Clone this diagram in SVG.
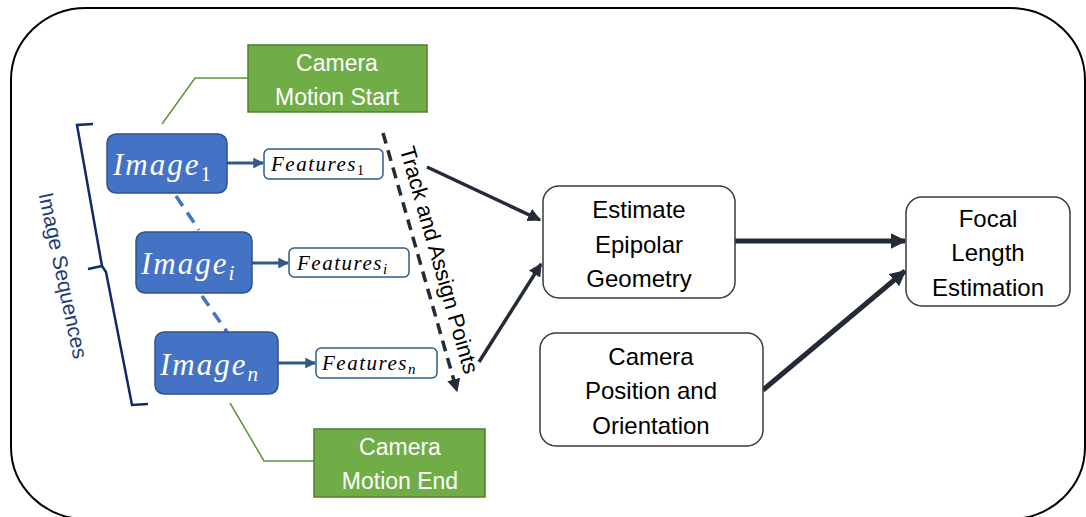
<svg xmlns="http://www.w3.org/2000/svg" width="1086" height="517" viewBox="0 0 1086 517">
<defs>
<style>
.frame{fill:#fff;stroke:#000;stroke-width:2}
.img{fill:#4472C4;stroke:#2F528F;stroke-width:1.5}
.imgt{font-family:"Liberation Serif",serif;font-style:italic;font-size:31px;letter-spacing:2px;fill:#fff}
.feat{fill:#fff;stroke:#2E5C8A;stroke-width:1.5}
.featt{font-family:"Liberation Serif",serif;font-style:italic;font-size:21px;letter-spacing:1.5px;fill:#000}
.sub{font-style:normal;letter-spacing:0}
.green{fill:#70AD47;stroke:#507E32;stroke-width:1.5}
.gt{font-family:"Liberation Sans",Arial,sans-serif;font-size:23px;fill:#fff;text-anchor:middle}
.box{fill:#fff;stroke:#3A3A3A;stroke-width:1.5}
.bt{font-family:"Liberation Sans",Arial,sans-serif;font-size:24px;fill:#000;text-anchor:middle}
.blue{stroke:#2E5C8A;stroke-width:3;fill:none}
.dark{stroke:#232B38;stroke-width:3.5;fill:none}
.thick{stroke:#232B38;stroke-width:5;fill:none}
.gline{stroke:#5E9639;stroke-width:1.5;fill:none}
</style>
<marker id="ab" viewBox="0 0 10 10" refX="9" refY="5" markerWidth="3.6" markerHeight="3.6" orient="auto" markerUnits="strokeWidth"><path d="M0,0L10,5L0,10z" fill="#2E5C8A"/></marker>
<marker id="ad" viewBox="0 0 10 10" refX="9" refY="5" markerWidth="3.8" markerHeight="3.8" orient="auto" markerUnits="strokeWidth"><path d="M0,0L10,5L0,10z" fill="#232B38"/></marker>
<marker id="at" viewBox="0 0 10 10" refX="9" refY="5" markerWidth="3.2" markerHeight="3.2" orient="auto" markerUnits="strokeWidth"><path d="M0,0L10,5L0,10z" fill="#232B38"/></marker>
</defs>
<rect class="frame" x="11" y="8" width="1074" height="511" rx="75" ry="72"/>

<g id="connectors">
<path class="gline" d="M162,124L195,78H248"/>
<path class="gline" d="M230,403L264,461H314"/>
<path d="M176,196L199,230M202,296L227,332" stroke="#4472C4" stroke-width="3.5" stroke-dasharray="12,8" fill="none"/>
<path class="blue" d="M227,163H263" marker-end="url(#ab)"/>
<path class="blue" d="M252,263H288" marker-end="url(#ab)"/>
<path class="blue" d="M278,363H315" marker-end="url(#ab)"/>
<path d="M383,133L457,391" stroke="#232B38" stroke-width="3.5" stroke-dasharray="11,7" fill="none" marker-end="url(#ad)"/>
<path class="dark" d="M427,167L540,220" marker-end="url(#ad)"/>
<path class="dark" d="M479,362L541,264" marker-end="url(#ad)"/>
<path class="thick" d="M735,241H905" marker-end="url(#at)"/>
<path class="thick" d="M763,390L905,271" marker-end="url(#at)"/>
<path d="M93,124L77,125L102,266L88,269M102,266L106,272L132,405L148,404" stroke="#0F2A6B" stroke-width="2.5" fill="none" stroke-linejoin="miter"/>
</g>

<g id="label-sequences">
<text transform="translate(56,277) rotate(78)" text-anchor="middle" font-family="Liberation Sans,Arial,sans-serif" font-size="21" fill="#1F3A7A">Image Sequences</text>
</g>
<g id="label-track">
<text transform="translate(432,262) rotate(74)" text-anchor="middle" font-family="Liberation Sans,Arial,sans-serif" font-size="22" fill="#000">Track and Assign Points</text>
</g>

<g id="camera-motion-start">
<rect class="green" x="248" y="45" width="179" height="67"/>
<text class="gt" x="337" y="71">Camera</text>
<text class="gt" x="337" y="105">Motion Start</text>
</g>
<g id="camera-motion-end">
<rect class="green" x="314" y="429" width="171" height="68"/>
<text class="gt" x="400" y="455">Camera</text>
<text class="gt" x="400" y="489">Motion End</text>
</g>

<g id="image-1">
<rect class="img" x="107" y="134" width="120" height="59" rx="9"/>
<text class="imgt" x="113" y="175">Image<tspan class="sub" font-size="21" dy="6">1</tspan></text>
</g>
<g id="image-i">
<rect class="img" x="136" y="232" width="116" height="61" rx="9"/>
<text class="imgt" x="141" y="274">Image<tspan font-size="21" dy="6" letter-spacing="0">i</tspan></text>
</g>
<g id="image-n">
<rect class="img" x="155" y="332" width="123" height="62" rx="9"/>
<text class="imgt" x="160" y="375">Image<tspan font-size="21" dy="6" letter-spacing="0">n</tspan></text>
</g>

<g id="features-1">
<rect class="feat" x="264" y="149" width="119" height="30" rx="5"/>
<text class="featt" x="271" y="171">Features<tspan class="sub" font-size="14" dy="4">1</tspan></text>
</g>
<g id="features-i">
<rect class="feat" x="289" y="248" width="120" height="29" rx="5"/>
<text class="featt" x="297" y="270">Features<tspan font-size="15" dy="4" letter-spacing="0">i</tspan></text>
</g>
<g id="features-n">
<rect class="feat" x="316" y="348" width="121" height="30" rx="5"/>
<text class="featt" x="322" y="370">Features<tspan font-size="15" dy="4" letter-spacing="0">n</tspan></text>
</g>

<g id="estimate-epipolar">
<rect class="box" x="543" y="186" width="192" height="112" rx="16"/>
<text class="bt" x="639" y="218">Estimate</text>
<text class="bt" x="639" y="253">Epipolar</text>
<text class="bt" x="639" y="287">Geometry</text>
</g>
<g id="camera-position">
<rect class="box" x="540" y="333" width="223" height="113" rx="16"/>
<text class="bt" x="651" y="365">Camera</text>
<text class="bt" x="651" y="399">Position and</text>
<text class="bt" x="651" y="434">Orientation</text>
</g>
<g id="focal-length">
<rect class="box" x="906" y="197" width="164" height="109" rx="16"/>
<text class="bt" x="988" y="227">Focal</text>
<text class="bt" x="988" y="261">Length</text>
<text class="bt" x="988" y="296">Estimation</text>
</g>
</svg>
